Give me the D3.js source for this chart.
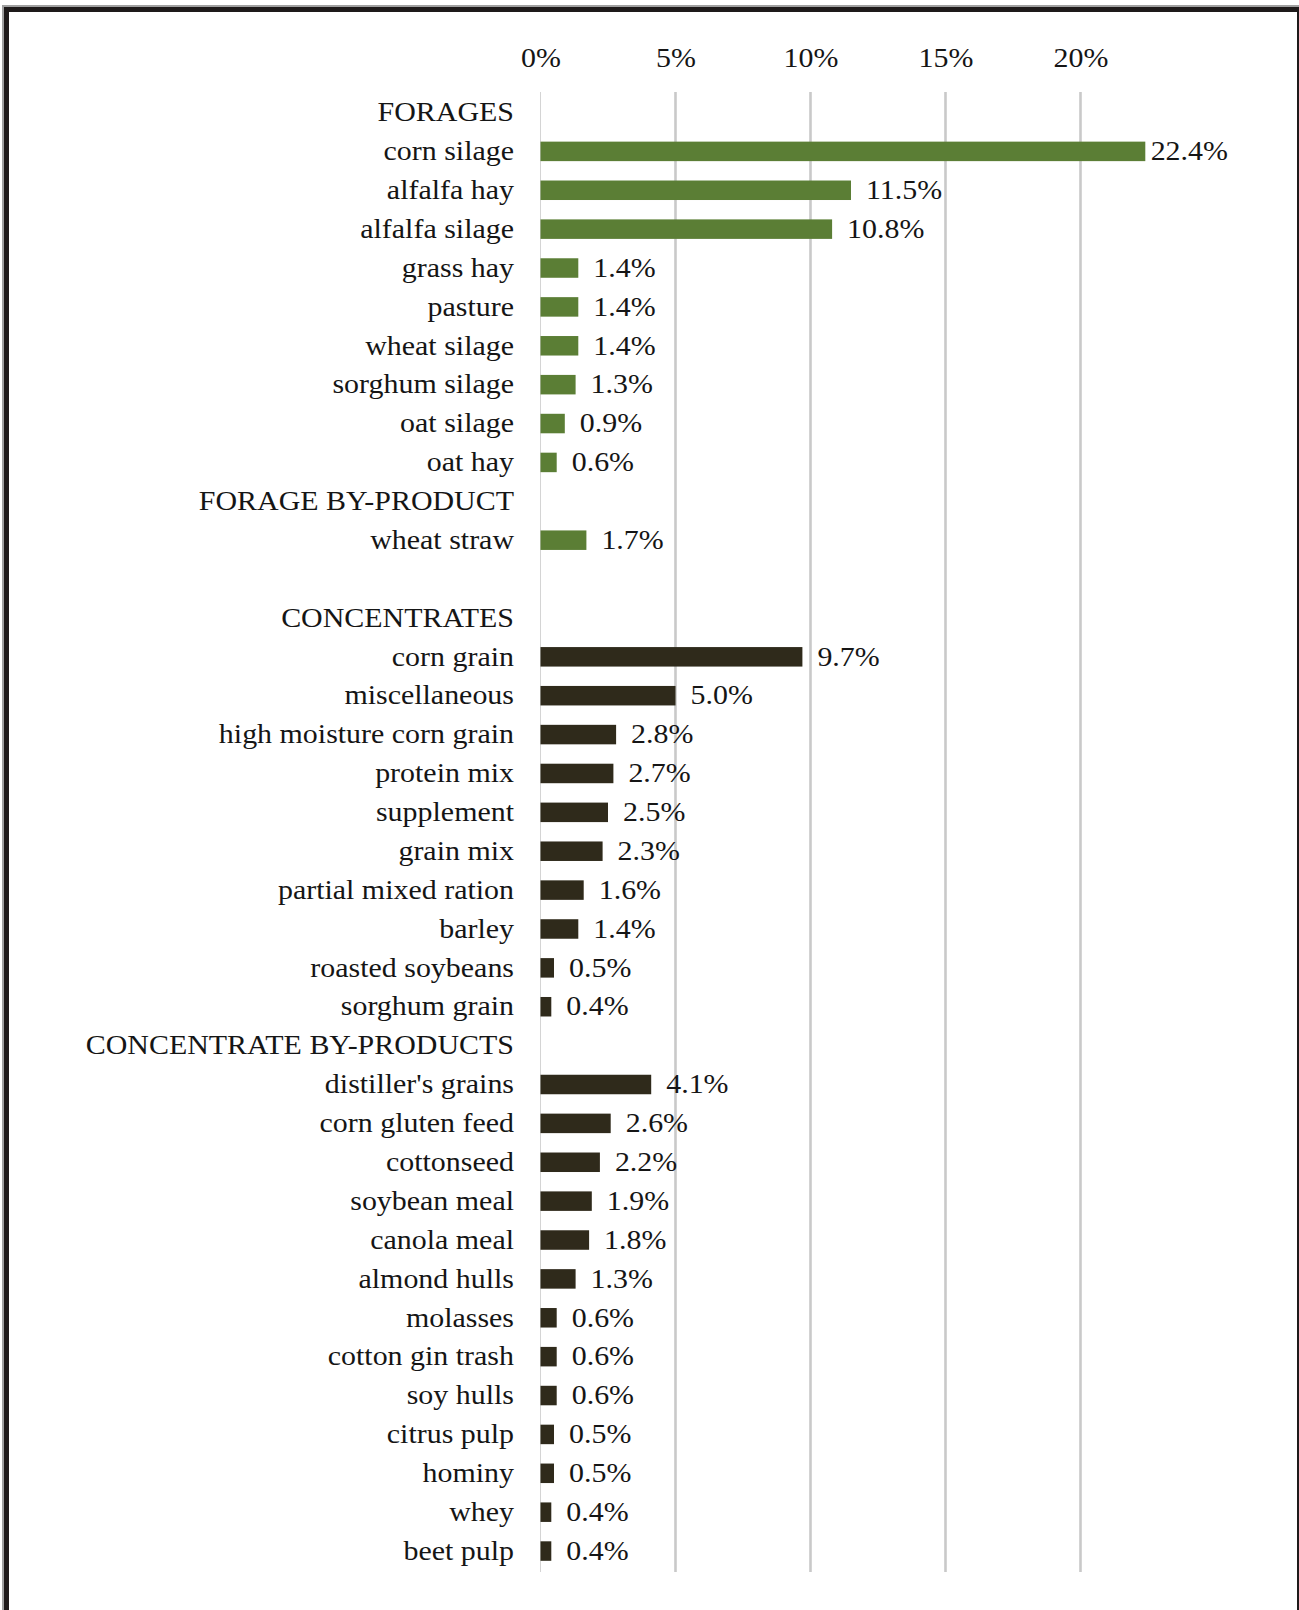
<!DOCTYPE html>
<html>
<head>
<meta charset="utf-8">
<script src="https://cdn.jsdelivr.net/npm/d3@7"></script>
<style>
  html, body { margin: 0; padding: 0; background: #fff; }
  svg { display: block; }
  text { font-family: "Liberation Serif", "Times New Roman", serif; fill: #151515; }
</style>
</head>
<body>
<svg id="chart" width="1299" height="1610"></svg>
<script>
// ---- data ----
const forageLabels = ["corn silage", "alfalfa hay", "alfalfa silage", "grass hay", "pasture", "wheat silage", "sorghum silage", "oat silage", "oat hay"];
const forageValues = [22.4, 11.5, 10.8, 1.4, 1.4, 1.4, 1.3, 0.9, 0.6];
const forageByLabels = ["wheat straw"];
const forageByValues = [1.7];
const concLabels = ["corn grain", "miscellaneous", "high moisture corn grain", "protein mix", "supplement", "grain mix", "partial mixed ration", "barley", "roasted soybeans", "sorghum grain"];
const concValues = [9.7, 5.0, 2.8, 2.7, 2.5, 2.3, 1.6, 1.4, 0.5, 0.4];
const concByLabels = ["distiller's grains", "corn gluten feed", "cottonseed", "soybean meal", "canola meal", "almond hulls", "molasses", "cotton gin trash", "soy hulls", "citrus pulp", "hominy", "whey", "beet pulp"];
const concByValues = [4.1, 2.6, 2.2, 1.9, 1.8, 1.3, 0.6, 0.6, 0.6, 0.5, 0.5, 0.4, 0.4];
const groupHeaders = ["FORAGES", "FORAGE BY-PRODUCT", "CONCENTRATES", "CONCENTRATE BY-PRODUCTS"];
const xTicks = [0, 5, 10, 15, 20];

// ---- build rows ----
const rows = [];
function addGroup(header, labels, values, kind) {
  rows.push({ key: header, label: header, value: null, kind: "header" });
  labels.forEach((l, i) => rows.push({ key: l, label: l, value: values[i], kind }));
}
addGroup(groupHeaders[0], forageLabels, forageValues, "forage");
addGroup(groupHeaders[1], forageByLabels, forageByValues, "forage");
rows.push({ key: "__blank__", label: "", value: null, kind: "blank" });
addGroup(groupHeaders[2], concLabels, concValues, "conc");
addGroup(groupHeaders[3], concByLabels, concByValues, "conc");

const colors = { forage: "#5b7e35", conc: "#2f2a1b" };
const SX = 1.13;       // horizontal stretch of the text
const FS = 26.5;

const svg = d3.select("#chart");

// frame
svg.append("rect").attr("x", 2).attr("y", 5).attr("width", 1297).attr("height", 1605).attr("fill", "#a0a0a0");
svg.append("rect").attr("x", 4).attr("y", 7).attr("width", 1295).attr("height", 1603).attr("fill", "#1e1a1a");
svg.append("rect").attr("x", 9).attr("y", 12).attr("width", 1288).attr("height", 1598).attr("fill", "#fff");

const x = d3.scaleLinear().domain([0, 20]).range([540.5, 1080.5]);
const step = 38.88;
const y = d3.scaleBand().domain(rows.map(r => r.key))
  .range([112.5 - step / 2, 112.5 - step / 2 + step * rows.length])
  .paddingInner(0.5).paddingOuter(0.25);

const gridTop = 92, gridBottom = 1572;

// gridlines
svg.append("g").selectAll("line").data(xTicks.filter(t => t > 0)).join("line")
  .attr("x1", d => x(d)).attr("x2", d => x(d))
  .attr("y1", gridTop).attr("y2", gridBottom)
  .attr("stroke", "#c9c9c9").attr("stroke-width", 2.6);
// zero axis line
svg.append("line").attr("x1", x(0)).attr("x2", x(0)).attr("y1", gridTop).attr("y2", gridBottom)
  .attr("stroke", "#d4d4d4").attr("stroke-width", 1);

// top axis labels
const xAxis = d3.axisTop(x).tickValues(xTicks).tickFormat(d => d + "%").tickSize(0).tickPadding(0);
const ax = svg.append("g").attr("transform", "translate(0,67)").call(xAxis);
ax.select(".domain").remove();
ax.selectAll("text")
  .attr("y", 0).attr("dy", 0).attr("x", 0)
  .attr("text-anchor", "middle")
  .attr("fill", "#151515")
  .style("font-size", FS + "px")
  .style("font-family", '"Liberation Serif", "Times New Roman", serif')
  .attr("transform", `scale(${SX},1)`);

const bandC = r => y(r.key) + y.bandwidth() / 2;

// category labels
svg.append("g").selectAll("text").data(rows.filter(r => r.label)).join("text")
  .attr("transform", r => `translate(514,${bandC(r)}) scale(${SX},1)`)
  .attr("dy", "0.33em")
  .attr("text-anchor", "end")
  .style("font-size", FS + "px")
  .text(r => r.label);

// bars
const valued = rows.filter(r => r.value !== null);
svg.append("g").selectAll("rect").data(valued).join("rect")
  .attr("x", x(0))
  .attr("y", r => bandC(r) - 9.75)
  .attr("height", 19.5)
  .attr("width", r => x(r.value) - x(0))
  .attr("fill", r => colors[r.kind]);

// value labels
const maxRight = 1228;
svg.append("g").selectAll("text").data(valued).join("text")
  .style("font-size", FS + "px")
  .attr("dy", "0.33em")
  .text(r => r.value.toFixed(1) + "%")
  .each(function (r) {
    const w = this.getComputedTextLength() * SX;
    let px = x(r.value) + 15;
    if (px + w > maxRight) px = maxRight - w;
    d3.select(this).attr("transform", `translate(${px},${bandC(r)}) scale(${SX},1)`);
  });
</script>
</body>
</html>
